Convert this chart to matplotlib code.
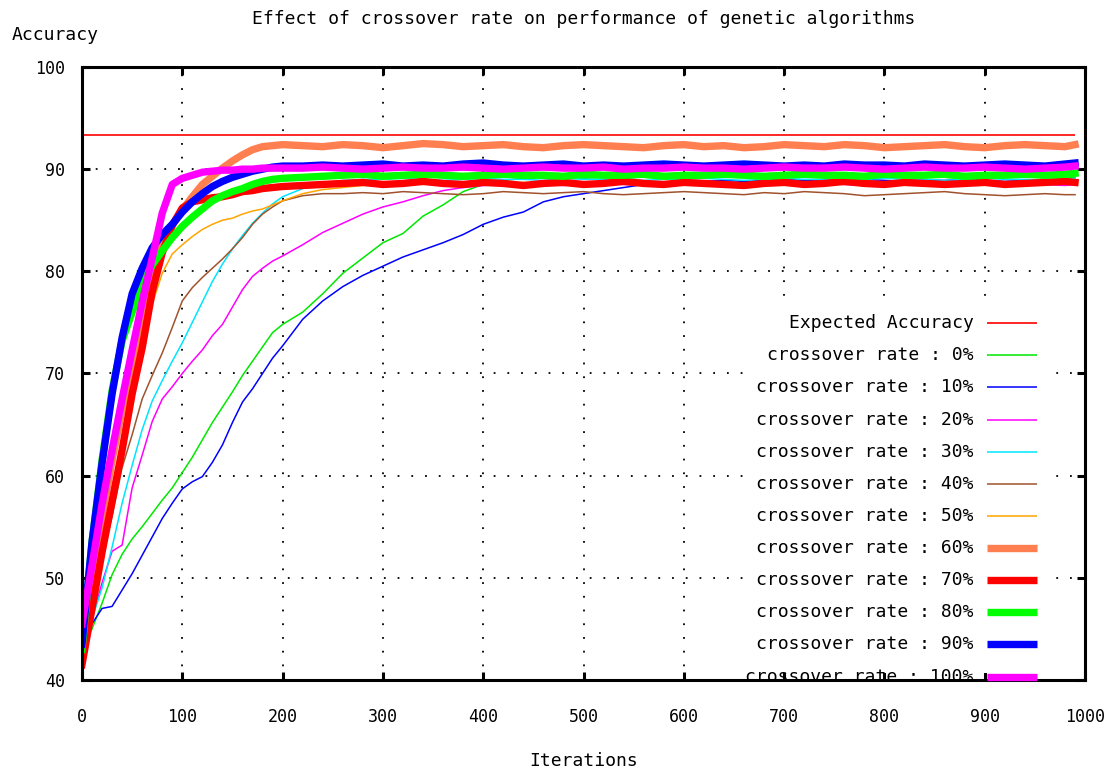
import matplotlib
matplotlib.use("Agg")
import matplotlib.pyplot as plt
from matplotlib.patches import Rectangle

plt.rcParams["font.family"] = ["DejaVu Sans Mono"]

# iterations sampled: every 10 up to 200, then every 20
ITER = list(range(0, 210, 10)) + list(range(220, 1000, 20)) + [990]

EXPECTED = 93.3

acc_00 = [43.0, 45.0, 47.5, 50.3, 52.3, 53.8, 55.0, 56.3, 57.6, 58.8, 60.3, 61.8, 63.5, 65.2, 66.7, 68.2, 69.8,
          71.2, 72.6, 74.0, 74.8] + \
         [76.0, 77.8, 79.8, 81.3, 82.8, 83.7, 85.4, 86.5, 87.8, 88.5, 88.9, 89.1,
          89.2, 89.3, 89.1, 89.2, 89.3, 89.2, 89.1, 89.2, 89.3, 89.2, 89.2, 89.1, 89.3, 89.2,
          89.2, 89.3, 89.1, 89.2, 89.2, 89.3, 89.2, 89.1, 89.2, 89.3, 89.2, 89.2, 89.1, 89.2]
acc_10 = [43.0, 45.5, 47.0, 47.2, 48.8, 50.4, 52.2, 54.0, 55.8, 57.3, 58.7, 59.4, 59.9, 61.3, 63.0, 65.2, 67.2,
          68.5, 70.0, 71.5, 72.7] + \
         [75.3, 77.1, 78.5, 79.6, 80.5, 81.4, 82.1, 82.8, 83.6, 84.6, 85.3, 85.8, 86.8, 87.3, 87.6, 87.9,
          88.2, 88.5, 88.7, 88.8,
          88.8, 88.9, 88.8, 88.9, 89.0, 88.9, 88.8, 88.9, 89.0, 88.9, 88.8, 88.9, 88.9, 89.0, 88.9,
          88.8, 88.9, 89.0, 88.9, 88.9]
acc_20 = [43.0, 46.0, 49.5, 52.6, 53.2, 58.8, 62.0, 65.3, 67.5, 68.7, 70.0, 71.2, 72.3, 73.7, 74.8, 76.5, 78.2,
          79.5, 80.3, 81.0, 81.5] + \
         [82.6, 83.8, 84.7, 85.6, 86.3, 86.8, 87.4, 87.9, 88.2, 88.4,
          88.5, 88.6, 88.5, 88.4, 88.5, 88.6, 88.5, 88.5, 88.4, 88.6, 88.5, 88.5, 88.6, 88.4, 88.5,
          88.5, 88.6, 88.5, 88.4, 88.5, 88.6, 88.5, 88.5, 88.4, 88.5, 88.6, 88.5, 88.5, 88.4, 88.5]
acc_30 = [43.0, 46.0, 49.0, 53.0, 57.3, 61.0, 64.5, 67.3, 69.3, 71.2, 73.0, 75.0, 77.0, 79.0, 80.7, 82.2, 83.5,
          84.7, 85.7, 86.6, 87.3] + \
         [88.1, 88.6, 88.9, 89.0,
          89.0, 89.1, 89.0, 88.9, 89.0, 89.1, 89.0, 89.0, 88.9, 89.1, 89.0, 89.0, 89.1, 88.9, 89.0,
          89.0, 89.1, 89.0, 88.9, 89.0, 89.1, 89.0, 89.0, 88.9, 89.0, 89.1, 89.0, 89.0, 88.9, 89.0,
          89.1, 89.0, 89.0, 88.9, 89.0, 89.1]
acc_40 = [41.0, 47.5, 52.0, 56.0, 60.8, 64.0, 67.5, 69.8, 72.0, 74.5, 77.1, 78.4, 79.4, 80.3, 81.2, 82.2, 83.3,
          84.6, 85.6, 86.3, 86.9] + \
         [87.4, 87.6,
          87.6, 87.7, 87.6, 87.8, 87.7, 87.6, 87.5, 87.6, 87.8, 87.7, 87.6, 87.7, 87.8, 87.6, 87.5,
          87.6, 87.7, 87.8, 87.7, 87.6, 87.5, 87.7, 87.6, 87.8, 87.7, 87.6, 87.4, 87.5, 87.6, 87.7,
          87.8, 87.6, 87.5, 87.4, 87.5, 87.6, 87.5, 87.5]
acc_50 = [42.0, 47.0, 52.5, 58.5, 63.5, 68.0, 72.5, 76.8, 79.8, 81.7, 82.6, 83.4, 84.1, 84.6, 85.0, 85.2, 85.6,
          85.9, 86.1, 86.5, 86.9] + \
         [87.6, 88.0, 88.2, 88.4, 88.5,
          88.6, 88.5, 88.7, 88.6, 88.5, 88.6, 88.7, 88.6, 88.5, 88.6, 88.6, 88.7, 88.5, 88.6, 88.6,
          88.7, 88.6, 88.5, 88.6, 88.7, 88.6, 88.6, 88.5, 88.6, 88.7, 88.6, 88.5, 88.6, 88.6, 88.7,
          88.6, 88.5, 88.6, 88.6, 88.7]
acc_60 = [44.0, 50.0, 56.0, 61.5, 66.5, 71.0, 75.5, 79.5, 82.5, 84.5, 86.0, 87.3, 88.5, 89.3, 90.1, 90.8, 91.4,
          91.9, 92.2, 92.3, 92.4] + \
         [92.3, 92.2, 92.4, 92.3, 92.1, 92.3, 92.5, 92.4, 92.2, 92.3, 92.4, 92.2, 92.1, 92.3, 92.4,
          92.3, 92.2, 92.1, 92.3, 92.4, 92.2, 92.3, 92.1, 92.2, 92.4, 92.3, 92.2, 92.4, 92.3, 92.1,
          92.2, 92.3, 92.4, 92.2, 92.1, 92.3, 92.4, 92.3, 92.2, 92.4]
acc_70 = [41.5, 47.0, 52.5, 57.5, 62.5, 68.0, 72.5, 78.0, 81.8, 84.5, 86.2, 86.8, 87.0, 87.2, 87.3, 87.5, 87.8,
          87.9, 88.1, 88.2, 88.3] + \
         [88.4, 88.5,
          88.6, 88.7, 88.5, 88.6, 88.8, 88.6, 88.5, 88.7, 88.6, 88.4, 88.6, 88.7, 88.5, 88.6, 88.8,
          88.6, 88.5, 88.7, 88.6, 88.5, 88.4, 88.6, 88.7, 88.5, 88.6, 88.8, 88.6, 88.5, 88.7, 88.6,
          88.5, 88.6, 88.7, 88.5, 88.6, 88.7, 88.8, 88.7]
acc_80 = [43.0, 53.5, 61.5, 68.3, 73.2, 76.0, 78.7, 80.6, 82.0, 83.3, 84.4, 85.3, 86.1, 86.9, 87.4, 87.8, 88.1,
          88.5, 88.8, 89.0, 89.1] + \
         [89.2, 89.3,
          89.4, 89.5, 89.3, 89.4, 89.5, 89.4, 89.3, 89.4, 89.5, 89.4, 89.4, 89.3, 89.5, 89.4, 89.4,
          89.5, 89.3, 89.4, 89.4, 89.5, 89.4, 89.3, 89.4, 89.5, 89.4, 89.4, 89.3, 89.5, 89.4, 89.4,
          89.5, 89.3, 89.4, 89.4, 89.5, 89.4, 89.5, 89.6]
acc_90 = [43.5, 53.5, 61.2, 68.0, 73.5, 77.8, 80.3, 82.3, 83.6, 84.6, 85.8, 86.8, 87.6, 88.3, 88.8, 89.2, 89.5,
          89.8, 90.0, 90.2, 90.3] + \
         [90.3, 90.4, 90.3, 90.4, 90.5, 90.3, 90.4, 90.3, 90.5, 90.6, 90.4, 90.3, 90.4, 90.5, 90.3,
          90.4, 90.3, 90.4, 90.5, 90.4, 90.3, 90.4, 90.5, 90.4, 90.3, 90.4, 90.3, 90.5, 90.4, 90.4,
          90.3, 90.5, 90.4, 90.3, 90.4, 90.5, 90.4, 90.3, 90.5, 90.6]
acc_100 = [45.5, 51.2, 57.2, 62.5, 67.5, 72.3, 77.0, 81.3, 85.7, 88.5, 89.1, 89.4, 89.7, 89.8, 89.9, 89.9, 90.0,
           90.0, 90.1, 90.1, 90.1] + \
          [90.1, 90.2, 90.1, 90.0, 90.1, 90.2, 90.1, 90.1, 90.2, 90.1, 90.0, 90.1, 90.2, 90.1, 90.1,
           90.2, 90.0, 90.1, 90.1, 90.2, 90.1, 90.1, 90.0, 90.1, 90.2, 90.1, 90.1, 90.2, 90.1, 90.0,
           90.1, 90.2, 90.1, 90.1, 90.2, 90.1, 90.0, 90.1, 90.2, 90.3]

RATES = ["0%", "10%", "20%", "30%", "40%", "50%", "60%", "70%", "80%", "90%", "100%"]
SERIES = [acc_00, acc_10, acc_20, acc_30, acc_40, acc_50, acc_60, acc_70, acc_80, acc_90, acc_100]
COLORS = ["#00e800", "#0000ff", "#ff00ff", "#00e5ff", "#a0522d", "#ffa500",
          "#ff7f50", "#ff0000", "#00ff00", "#0000ff", "#ff00ff"]
WIDTHS = [1.1] * 6 + [5.3] * 5

for s in SERIES:
    assert len(s) == len(ITER), len(s)

FS = 13

fig = plt.figure(figsize=(11.2, 7.69), dpi=100)
ax = fig.add_axes([0.0732, 0.1158, 0.8956, 0.7971])

ax.hlines(EXPECTED, ITER[0], ITER[-1], color="#ff0000", lw=1.2, zorder=2)
for s, c, w in zip(SERIES, COLORS, WIDTHS):
    ax.plot(ITER, s, color=c, lw=w, zorder=2)

ax.set_xlim(0, 1000)
ax.set_ylim(40, 100)
ax.set_xticks(range(0, 1001, 100))
ax.set_yticks(range(40, 101, 10))
ax.tick_params(direction="in", length=6, width=2.2, top=True, right=True, labelsize=FS - 1)
ax.tick_params(axis="x", pad=20)
ax.tick_params(axis="y", pad=12)
for sp in ax.spines.values():
    sp.set_linewidth(2.2)

ax.set_axisbelow(True)
ax.grid(True, color="black", linestyle=(0, (1, 6.6)), linewidth=1.3)

# key is opaque in gnuplot: blank out the grid behind it
ax.add_patch(Rectangle((0.661, 0.012), 0.299, 0.596, transform=ax.transAxes,
                       facecolor="white", edgecolor="none", zorder=1.2))

labels = ["Expected Accuracy"] + ["crossover rate : " + r for r in RATES]
key_colors = ["#ff0000"] + COLORS
key_widths = [1.2] + WIDTHS
for i, (lab, c, w) in enumerate(zip(labels, key_colors, key_widths)):
    y = 0.582 - i * 0.0524
    ax.text(0.889, y, lab, transform=ax.transAxes, ha="right", va="center", fontsize=FS, zorder=3)
    ax.plot([0.902, 0.952], [y, y], transform=ax.transAxes, color=c, lw=w,
            solid_capstyle="butt", clip_on=False, zorder=3)

ax.set_title("Effect of crossover rate on performance of genetic algorithms", fontsize=FS, pad=31)
ax.set_xlabel("Iterations", fontsize=FS, labelpad=19)
fig.text(12 / 1120, 1 - 35 / 769, "Accuracy", fontsize=FS, ha="left", va="center")

fig.savefig("out.png", dpi=100)
